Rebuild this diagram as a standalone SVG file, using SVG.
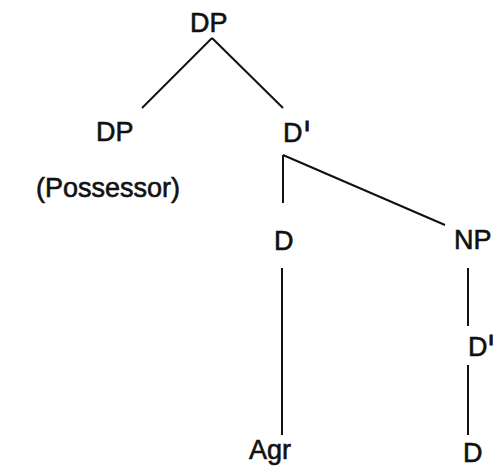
<svg xmlns="http://www.w3.org/2000/svg" width="495" height="470" viewBox="0 0 495 470">
<style>
text{font-family:"Liberation Sans",Arial,sans-serif;font-size:27px;fill:#111;stroke:#111;stroke-width:0.6}
.pr{font-size:15px;font-weight:bold;stroke-width:1}
.e{stroke:#111;stroke-width:2;fill:none}
</style>
<rect width="495" height="470" fill="#fff"/>
<g id="edges">
<line class="e" x1="212" y1="38" x2="142" y2="108"/>
<line class="e" x1="212" y1="38" x2="283" y2="108"/>
<line class="e" x1="283" y1="155" x2="283" y2="203"/>
<line class="e" x1="283" y1="155" x2="445" y2="225"/>
<line class="e" x1="282" y1="268" x2="282" y2="435"/>
<line class="e" x1="468" y1="268" x2="468" y2="326"/>
<line class="e" x1="468" y1="365" x2="468" y2="435"/>
</g>
<g id="dp-top"><text x="190" y="32">DP</text></g>
<g id="dp-poss"><text x="96" y="141">DP</text><text x="36" y="197">(Possessor)</text></g>
<g id="dbar"><text x="283" y="142">D<tspan class="pr" x="305" y="131">I</tspan></text></g>
<g id="d"><text x="274" y="250">D</text></g>
<g id="np"><text x="454" y="249">NP</text></g>
<g id="agr"><text x="249" y="459">Agr</text></g>
<g id="dbar2"><text x="468" y="356">D<tspan class="pr" x="489" y="345">I</tspan></text></g>
<g id="d2"><text x="463" y="462">D</text></g>
</svg>
